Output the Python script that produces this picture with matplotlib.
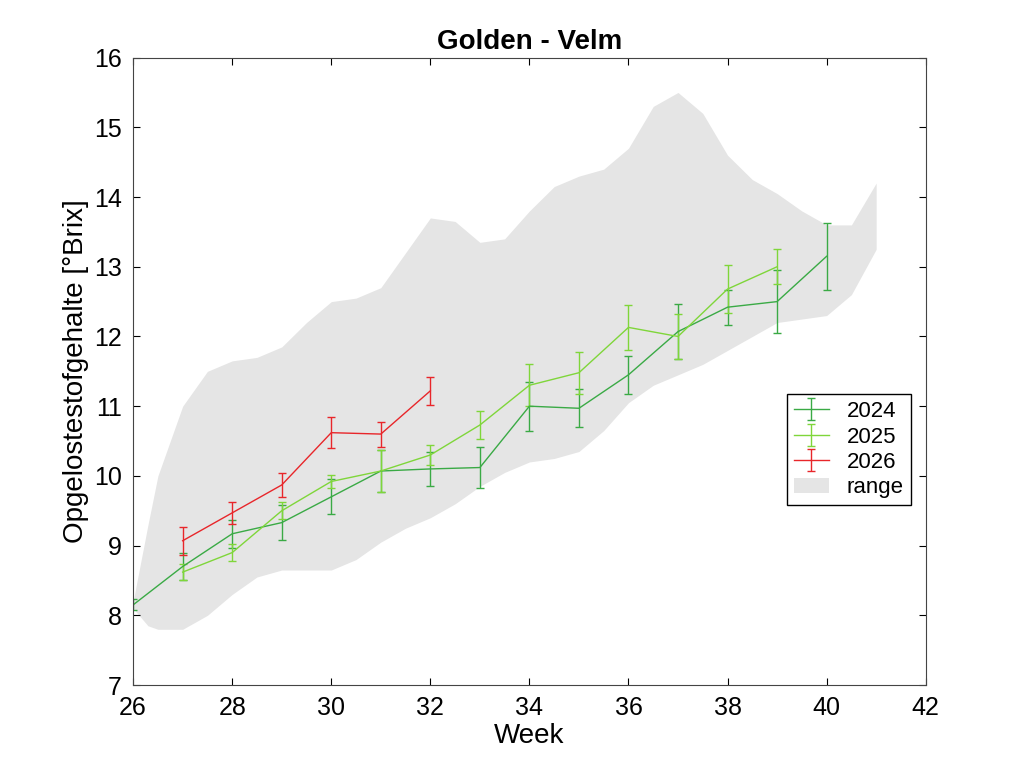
import matplotlib.pyplot as plt

plt.rcParams['font.family'] = ['Liberation Sans', 'DejaVu Sans']

# range band
range_weeks = [26, 26.3, 26.5, 27, 27.5, 28, 28.5, 29, 29.5, 30, 30.5, 31, 31.5, 32, 32.5, 33, 33.5,
               34, 34.5, 35, 35.5, 36, 36.5, 37, 37.5, 38, 38.5, 39, 39.5, 40, 40.5, 41]
range_upper = [8.2, 9.3, 10.0, 11.0, 11.5, 11.65, 11.7, 11.85, 12.2, 12.5, 12.55, 12.7, 13.2, 13.7, 13.65,
               13.35, 13.4, 13.8, 14.15, 14.3, 14.4, 14.7, 15.3, 15.5, 15.2, 14.6, 14.25, 14.05, 13.8,
               13.6, 13.6, 14.2]
range_lower = [8.1, 7.85, 7.8, 7.8, 8.0, 8.3, 8.55, 8.65, 8.65, 8.65, 8.8, 9.05, 9.25, 9.4, 9.6, 9.85,
               10.05, 10.2, 10.25, 10.35, 10.65, 11.05, 11.3, 11.45, 11.6, 11.8, 12.0, 12.2, 12.25,
               12.3, 12.6, 13.25]

weeks_2024 = [26, 27, 28, 29, 30, 31, 32, 33, 34, 35, 36, 37, 38, 39, 40]
brix_2024 = [8.15, 8.7, 9.17, 9.33, 9.7, 10.07, 10.1, 10.12, 11.0, 10.97, 11.45, 12.07, 12.42, 12.5, 13.15]
err_2024 = [0.08, 0.2, 0.2, 0.25, 0.25, 0.3, 0.25, 0.3, 0.35, 0.27, 0.27, 0.4, 0.25, 0.45, 0.48]

weeks_2025 = [27, 28, 29, 30, 31, 32, 33, 34, 35, 36, 37, 38, 39]
brix_2025 = [8.62, 8.9, 9.5, 9.92, 10.07, 10.3, 10.73, 11.3, 11.48, 12.13, 12.0, 12.68, 13.0]
err_2025 = [0.12, 0.12, 0.12, 0.1, 0.3, 0.15, 0.2, 0.3, 0.3, 0.32, 0.32, 0.35, 0.25]

weeks_2026 = [27, 28, 29, 30, 31, 32]
brix_2026 = [9.07, 9.47, 9.87, 10.62, 10.6, 11.22]
err_2026 = [0.2, 0.16, 0.17, 0.22, 0.18, 0.2]

fig, ax = plt.subplots(figsize=(10.24, 7.68), dpi=100)
fig.subplots_adjust(left=0.13, right=0.904, bottom=0.108, top=0.925)

ax.fill_between(range_weeks, range_lower, range_upper, color='#e5e5e5', linewidth=0, label='range')
ax.errorbar(weeks_2024, brix_2024, yerr=err_2024, color='#3aaa45', lw=1, capsize=3, label='2024')
ax.errorbar(weeks_2025, brix_2025, yerr=err_2025, color='#7fd63a', lw=1, capsize=3, label='2025')
ax.errorbar(weeks_2026, brix_2026, yerr=err_2026, color='#e8262a', lw=1, capsize=3, label='2026')

ax.set_xlim(26, 42)
ax.set_ylim(7, 16)
ax.set_xticks(range(26, 43, 2))
ax.set_yticks(range(7, 17))
ax.tick_params(labelsize=18, direction='in', length=5, top=True, right=True)
ax.tick_params(axis='x', pad=8)
ax.tick_params(axis='y', pad=8)
ax.set_xlabel('Week', fontsize=20, labelpad=2)
ax.set_ylabel('Opgelostestofgehalte [°Brix]', fontsize=20)
ax.set_title('Golden - Velm', fontsize=20, fontweight='bold')
for s in ax.spines.values():
    s.set_color('#444444')

h, l = ax.get_legend_handles_labels()
order = [1, 2, 3, 0]
ax.legend([h[i] for i in order], [l[i] for i in order], loc='center right',
          bbox_to_anchor=(0.995, 0.375), fontsize=16, fancybox=False, edgecolor='black',
          framealpha=1, handlelength=1.6, borderpad=0.3, labelspacing=0.2)

fig.savefig('out.png', dpi=100)
